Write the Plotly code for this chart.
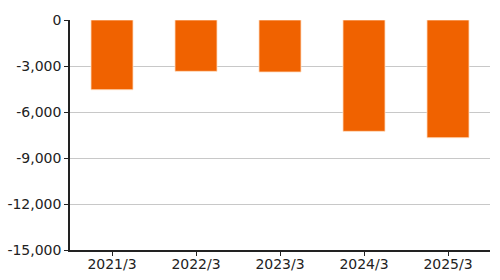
import plotly.graph_objects as go

categories = ["2021/3", "2022/3", "2023/3", "2024/3", "2025/3"]
values = [-4546, -3348, -3391, -7261, -7676]
y_ticks = [0, -3000, -6000, -9000, -12000, -15000]
y_tick_labels = ["0", "-3,000", "-6,000", "-9,000", "-12,000", "-15,000"]

fig = go.Figure(
    go.Bar(
        x=categories,
        y=values,
        marker=dict(color="#F06200", line=dict(color="rgba(255,220,190,0.8)", width=1)),
        width=0.5,
    )
)

fig.update_layout(
    width=500,
    height=280,
    margin=dict(l=70, r=10, t=20, b=30),
    paper_bgcolor="white",
    plot_bgcolor="white",
    showlegend=False,
    font=dict(family="DejaVu Sans, Verdana, sans-serif", size=14, color="#222222"),
)

fig.update_yaxes(
    range=[-15000, 0],
    tickvals=y_ticks,
    ticktext=y_tick_labels,
    showgrid=True,
    gridcolor="#C8C8C8",
    gridwidth=1,
    zeroline=False,
    showline=True,
    linecolor="#222222",
    linewidth=1.5,
    ticks="outside",
    ticklen=4,
    tickcolor="#222222",
    automargin=False,
)
fig.update_xaxes(
    showline=True,
    linecolor="#222222",
    linewidth=1.5,
    ticks="outside",
    ticklen=4,
    tickcolor="#222222",
    showgrid=False,
    automargin=False,
    ticklabelstandoff=-4,
)

fig.write_html("out.html")
